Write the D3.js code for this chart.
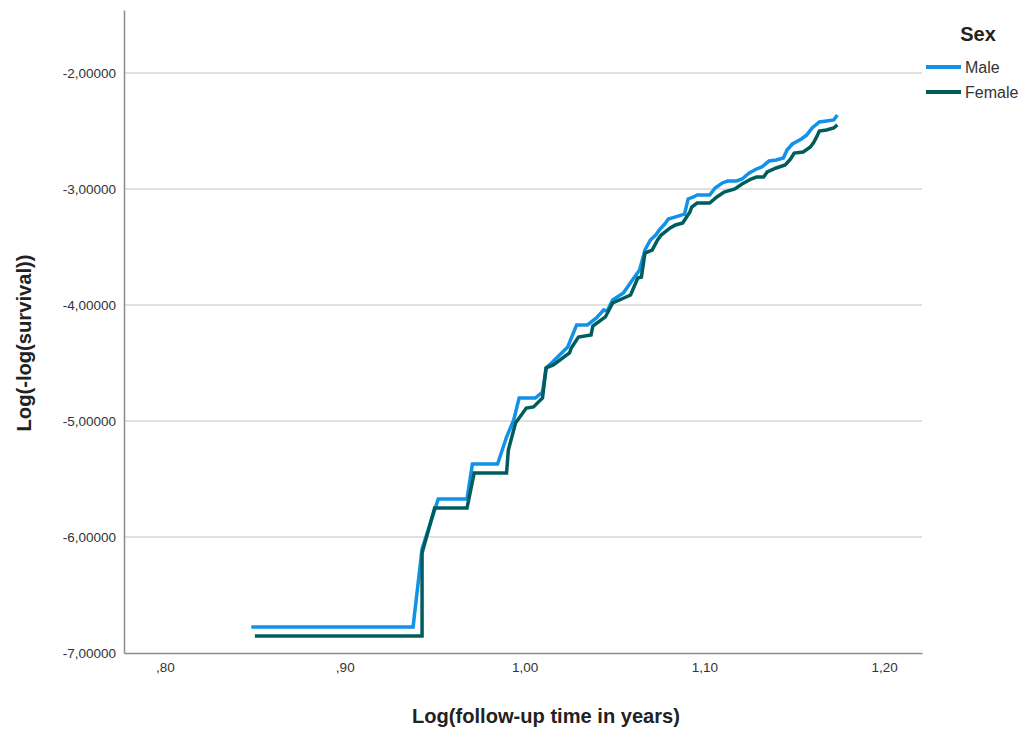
<!DOCTYPE html>
<html>
<head>
<meta charset="utf-8">
<script src="https://cdn.jsdelivr.net/npm/d3@7"></script>
<style>
  body { margin: 0; background: #fff; }
  svg { font-family: "Liberation Sans", Arial, sans-serif; }
</style>
</head>
<body>
<div id="chart"></div>
<script>
// log(time), log(-log(survival))
const maleCurve = [
    [0.848, -6.776], [0.938, -6.776], [0.943, -6.103], [0.952, -5.672], [0.968, -5.672],
    [0.971, -5.371], [0.985, -5.371], [0.990, -5.138], [0.994, -4.991], [0.997, -4.802],
    [1.006, -4.802], [1.010, -4.750], [1.012, -4.543], [1.015, -4.500], [1.024, -4.362],
    [1.029, -4.172], [1.035, -4.172], [1.040, -4.112], [1.044, -4.043], [1.046, -4.052],
    [1.049, -3.957], [1.055, -3.897], [1.060, -3.784], [1.064, -3.698], [1.067, -3.526],
    [1.070, -3.440], [1.073, -3.397], [1.075, -3.353], [1.078, -3.302], [1.080, -3.259],
    [1.084, -3.241], [1.089, -3.216], [1.091, -3.086], [1.094, -3.069], [1.096, -3.052],
    [1.103, -3.052], [1.106, -2.991], [1.110, -2.948], [1.113, -2.931], [1.118, -2.931],
    [1.121, -2.914], [1.125, -2.862], [1.129, -2.828], [1.132, -2.810], [1.136, -2.759],
    [1.140, -2.750], [1.144, -2.733], [1.146, -2.664], [1.149, -2.612], [1.151, -2.595],
    [1.154, -2.569], [1.157, -2.534], [1.160, -2.474], [1.164, -2.422], [1.168, -2.414],
    [1.172, -2.405], [1.174, -2.362]
];

const femaleCurve = [
    [0.850, -6.853], [0.943, -6.853], [0.943, -6.138], [0.950, -5.750], [0.968, -5.750],
    [0.972, -5.448], [0.990, -5.448], [0.991, -5.250], [0.995, -5.017], [1.001, -4.888],
    [1.005, -4.879], [1.010, -4.802], [1.012, -4.543], [1.016, -4.517], [1.025, -4.414],
    [1.026, -4.371], [1.030, -4.276], [1.037, -4.259], [1.038, -4.181], [1.045, -4.103],
    [1.049, -3.983], [1.059, -3.914], [1.063, -3.767], [1.065, -3.759], [1.067, -3.552],
    [1.071, -3.526], [1.074, -3.440], [1.076, -3.397], [1.081, -3.336], [1.084, -3.310],
    [1.088, -3.293], [1.092, -3.198], [1.093, -3.155], [1.096, -3.121], [1.103, -3.121],
    [1.107, -3.069], [1.111, -3.026], [1.117, -3.000], [1.121, -2.957], [1.126, -2.914],
    [1.129, -2.897], [1.133, -2.897], [1.135, -2.853], [1.140, -2.819], [1.145, -2.793],
    [1.148, -2.741], [1.150, -2.690], [1.155, -2.681], [1.159, -2.638], [1.161, -2.595],
    [1.163, -2.534], [1.164, -2.500], [1.168, -2.491], [1.172, -2.474], [1.174, -2.448]
];

const seriesNames = ["Male", "Female"];
const seriesColors = ["#1192e8", "#005d5d"];
const xTicks = [0.8, 0.9, 1.0, 1.1, 1.2];
const yTicks = [-7, -6, -5, -4, -3, -2];

const margin = { top: 10, right: 113, bottom: 79, left: 124 };
const width = 1035 - margin.left - margin.right;
const height = 732 - margin.top - margin.bottom;

const svg = d3.select("#chart")
    .append("svg")
    .attr("width", 1035)
    .attr("height", 732);

const g = svg.append("g")
    .attr("transform", `translate(${margin.left},${margin.top})`);

// 比例尺
const x = d3.scaleLinear().domain([0.7772, 1.2211]).range([0, width]);
const y = d3.scaleLinear().domain([-7, -1.457]).range([height, 0]);

const fmtX = d => d3.format(".2f")(d).replace(/^0/, "").replace(".", ",");
const fmtY = d => d3.format(".5f")(d).replace("−", "-").replace(".", ",");

// 网格线
g.append("g")
    .selectAll("line")
    .data(yTicks.slice(1))
    .enter()
    .append("line")
    .attr("x1", 0)
    .attr("x2", width)
    .attr("y1", d => y(d))
    .attr("y2", d => y(d))
    .attr("stroke", "#c4c4c4")
    .attr("stroke-width", 1.2);

// Y 轴
const yAxis = g.append("g")
    .call(d3.axisLeft(y).tickValues(yTicks).tickFormat(fmtY).tickSize(0).tickPadding(8));
yAxis.select(".domain").attr("stroke", "#8c8c8c").attr("stroke-width", 1.5);
yAxis.selectAll("text").attr("font-size", "13.5px").attr("fill", "#333");

// X 轴
const xAxis = g.append("g")
    .attr("transform", `translate(0,${height})`)
    .call(d3.axisBottom(x).tickValues(xTicks).tickFormat(fmtX).tickSize(0).tickPadding(9));
xAxis.select(".domain").attr("stroke", "#8c8c8c").attr("stroke-width", 1.5);
xAxis.selectAll("text").attr("font-size", "13.5px").attr("fill", "#333");

// 轴标题 (压窄字形, 接近原图)
svg.append("text")
    .attr("x", 546)
    .attr("y", 723)
    .attr("text-anchor", "middle")
    .attr("font-size", "21px")
    .attr("font-weight", "bold")
    .attr("fill", "#222")
    .attr("textLength", 268)
    .attr("lengthAdjust", "spacingAndGlyphs")
    .text("Log(follow-up time in years)");

svg.append("text")
    .attr("transform", "rotate(-90)")
    .attr("x", -343)
    .attr("y", 31)
    .attr("text-anchor", "middle")
    .attr("font-size", "21px")
    .attr("font-weight", "bold")
    .attr("fill", "#222")
    .attr("textLength", 177)
    .attr("lengthAdjust", "spacingAndGlyphs")
    .text("Log(-log(survival))");

// 折线
const line = d3.line()
    .x(d => x(d[0]))
    .y(d => y(d[1]));

[maleCurve, femaleCurve].forEach((curve, i) => {
    g.append("path")
        .datum(curve)
        .attr("fill", "none")
        .attr("stroke", seriesColors[i])
        .attr("stroke-width", 3.5)
        .attr("stroke-linejoin", "miter")
        .attr("d", line);
});

// 图例
const legend = svg.append("g").attr("transform", "translate(926, 0)");
legend.append("text")
    .attr("x", 52)
    .attr("y", 41)
    .attr("text-anchor", "middle")
    .attr("font-size", "20px")
    .attr("font-weight", "bold")
    .attr("fill", "#222")
    .text("Sex");

seriesNames.forEach((name, i) => {
    const item = legend.append("g").attr("transform", `translate(0, ${67 + i * 25})`);
    item.append("line")
        .attr("x1", 0)
        .attr("x2", 35)
        .attr("stroke", seriesColors[i])
        .attr("stroke-width", 4);
    item.append("text")
        .attr("x", 39)
        .attr("dy", "0.35em")
        .attr("font-size", "16px")
        .attr("fill", "#333")
        .text(name);
});
</script>
</body>
</html>
